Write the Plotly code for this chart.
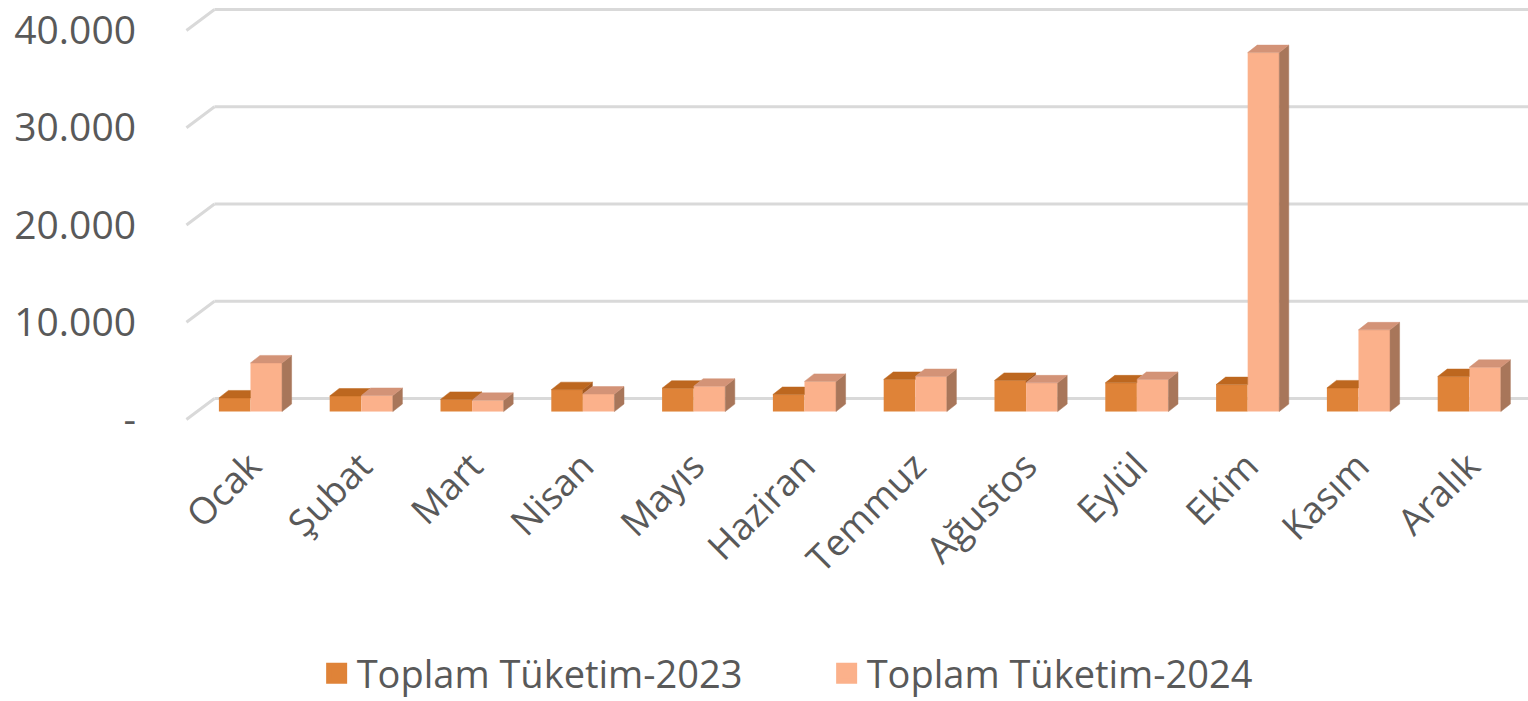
import plotly.graph_objects as go

# ---------------- data ----------------
months = ["Ocak", "Şubat", "Mart", "Nisan", "Mayıs", "Haziran",
          "Temmuz", "Ağustos", "Eylül", "Ekim", "Kasım", "Aralık"]
tuketim_2023 = [1400, 1600, 1250, 2250, 2400, 1750, 3300, 3200, 2950, 2770, 2430, 3600]
tuketim_2024 = [5000, 1650, 1150, 1800, 2600, 3100, 3600, 2950, 3300, 36900, 8400, 4550]
series_names = ["Toplam Tüketim-2023", "Toplam Tüketim-2024"]
ytick_vals = [0, 10000, 20000, 30000, 40000]
ytick_text = ["-", "10.000", "20.000", "30.000", "40.000"]

# ---------------- style ----------------
C23_FRONT, C23_TOP, C23_SIDE = "#DF8338", "#BD671F", "#A45A22"
C24_FRONT, C24_TOP, C24_SIDE = "#FBB18B", "#D39377", "#A8765A"
TEXT = "#595959"
GRID = "#D9D9D9"
FONT = "Open Sans"

W = 0.285        # bar width (category units)
DX = 0.086       # 3D depth, x
DY = 770         # 3D depth, y (value units)
WALL = 1335      # back wall offset
FRONT = -820     # floor front edge offset
X_DIAG0, X_DIAG1 = -0.578, -0.325
X_MIN, X_MAX = -0.6, 11.53

idx = list(range(len(months)))
x23 = [i - W / 2 for i in idx]
x24 = [i + W / 2 for i in idx]

fig = go.Figure()

# front faces
fig.add_trace(go.Bar(x=x23, y=tuketim_2023, width=W, marker=dict(color=C23_FRONT, line=dict(width=0)),
                     showlegend=False, name=series_names[0]))
fig.add_trace(go.Bar(x=x24, y=tuketim_2024, width=W, marker=dict(color=C24_FRONT, line=dict(width=0)),
                     showlegend=False, name=series_names[1]))


def poly_trace(xs, ys, color):
    return go.Scatter(x=xs, y=ys, mode="lines", fill="toself", fillcolor=color,
                      line=dict(color=color, width=0.5), hoverinfo="skip", showlegend=False)


# 2023 side (only visible part above the 2024 bar) and top faces
sx, sy, tx, ty = [], [], [], []
for i in idx:
    v3, v4 = tuketim_2023[i], tuketim_2024[i]
    xl, xr = i - W, i
    if v3 > v4:
        sx += [xr, xr + DX, xr + DX, xr, xr, None]
        sy += [v4, v4 + DY, v3 + DY, v3, v4, None]
    if v4 <= v3:
        tx += [xl, xl + DX, xr + DX, xr, xl, None]
        ty += [v3, v3 + DY, v3 + DY, v3, v3, None]
    elif v4 >= v3 + DY:
        tx += [xl, xl + DX, xr, xr, xl, None]
        ty += [v3, v3 + DY, v3 + DY, v3, v3, None]
    else:
        s0 = (v3 + DY - v4) / DY
        tx += [xl, xl + DX, xr + s0 * DX, xr, xr, xl, None]
        ty += [v3, v3 + DY, v3 + DY, v4, v3, v3, None]
if sx:
    fig.add_trace(poly_trace(sx, sy, C23_SIDE))
fig.add_trace(poly_trace(tx, ty, C23_TOP))

# 2024 side and top faces
sx, sy, tx, ty = [], [], [], []
for i in idx:
    v4 = tuketim_2024[i]
    xl, xr = i, i + W
    sx += [xr, xr + DX, xr + DX, xr, xr, None]
    sy += [0, DY, v4 + DY, v4, 0, None]
    tx += [xl, xl + DX, xr + DX, xr, xl, None]
    ty += [v4, v4 + DY, v4 + DY, v4, v4, None]
fig.add_trace(poly_trace(sx, sy, C24_SIDE))
fig.add_trace(poly_trace(tx, ty, C24_TOP))

# legend entries
for nm, col in zip(series_names, [C23_FRONT, C24_FRONT]):
    fig.add_trace(go.Scatter(x=[None], y=[None], mode="markers", name=nm,
                             marker=dict(symbol="square", size=16, color=col,
                                         line=dict(color=col, width=5))))

# gridlines on the back wall with diagonal floor/wall edge
for t in ytick_vals:
    fig.add_shape(type="line", xref="x", yref="y", x0=X_DIAG0, y0=t + FRONT, x1=X_DIAG1, y1=t + WALL,
                  line=dict(color=GRID, width=3), layer="below")
    fig.add_shape(type="line", xref="x", yref="y", x0=X_DIAG1, y0=t + WALL, x1=X_MAX, y1=t + WALL,
                  line=dict(color=GRID, width=3), layer="below")

fig.update_layout(
    width=1528, height=701,
    margin=dict(l=184, r=0, t=3, b=270, autoexpand=False),
    paper_bgcolor="white", plot_bgcolor="white",
    barmode="overlay",
    font=dict(family=FONT, color=TEXT),
    xaxis=dict(range=[X_MIN, X_MAX], tickvals=idx, ticktext=months, tickangle=-45,
               showgrid=False, zeroline=False, showline=False, ticks="", automargin=False,
               tickfont=dict(size=37, color=TEXT), ticklabelstandoff=5),
    yaxis=dict(range=[-2000, 42000], tickvals=[t + FRONT for t in ytick_vals], ticktext=ytick_text,
               showgrid=False, zeroline=False, showline=False, ticks="", automargin=False,
               tickfont=dict(size=39, color=TEXT), ticklabelstandoff=47),
    legend=dict(orientation="h", xref="container", yref="container", x=0.541, y=0.084,
                xanchor="center", yanchor="top", font=dict(size=38, color=TEXT),
                itemwidth=30, entrywidth=465, tracegroupgap=0),
    showlegend=True,
)

fig.write_html("out.html", config={"displayModeBar": False},
               post_script="document.body.style.margin='0';document.body.style.overflow='hidden';")
